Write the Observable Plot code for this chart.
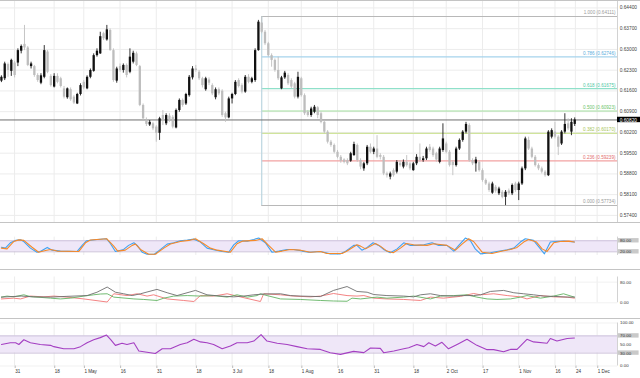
<!DOCTYPE html>
<html><head><meta charset="utf-8">
<script src="https://cdn.jsdelivr.net/npm/d3@7"></script>
<script src="https://cdn.jsdelivr.net/npm/@observablehq/plot@0.6"></script>
<style>
html,body{margin:0;padding:0;background:#fff;}
#chart{width:640px;height:378px;overflow:hidden;font-family:"Liberation Sans",Arial,sans-serif;}
.panel{border-top:1px solid #c4c4c4;}
.panel svg{display:block;}
</style></head><body><div id="chart"></div>
<script>
// ---- Candles (NZD/USD daily, trading-day index 0 = 27 Mar) ----
const open = [.6193,.6201,.6249,.6226,.6254,.6254,.6294,.6317,.6305,.6242,
.6242,.6212,.6186,.6206,.6291,.6209,.6173,.6209,.6201,.6167,
.6137,.6164,.6139,.6116,.6148,.6189,.6167,.6206,.6226,.6279,
.6285,.6353,.6332,.6364,.6296,.6193,.6242,.6229,.6246,.6223,
.6257,.6285,.6242,.6111,.6062,.6045,.6049,.6038,.6017,.6077,
.6049,.6075,.6071,.6035,.6094,.6128,.6116,.6144,.6204,.6234,
.6223,.6201,.6164,.6197,.6178,.6137,.6164,.6159,.6083,.6069,
.6133,.6148,.6195,.6178,.6156,.6206,.6189,.6195,.6296,.6389,
.6358,.6319,.6279,.6263,.6229,.6167,.6204,.6212,.6195,.6184,
.6139,.6201,.6144,.6088,.6077,.6088,.6103,.6083,.6054,.6021,
.5987,.5976,.5953,.5936,.5927,.5925,.5923,.5942,.5976,.5925,
.5897,.5914,.5970,.5953,.5964,.5942,.5936,.5880,.5869,.5891,
.5886,.5916,.5903,.5919,.5914,.5891,.5914,.5936,.5925,.5931,
.5970,.5964,.5948,.5919,.5959,.5981,.5953,.5919,.5908,.5964,
.5993,.6021,.6043,.5925,.5914,.5919,.5891,.5858,.5846,.5815,
.5835,.5813,.5818,.5801,.5822,.5813,.5846,.5824,.5846,.5897,
.5993,.5964,.5936,.5908,.5897,.5886,.5874,.6004,.6021,.6004,
.5981,.6021,.6049,.6021,.6047];
const high = [.6211,.6257,.6254,.6267,.6260,.6302,.6315,.6381,.6310,.6257,
.6246,.6218,.6218,.6313,.6296,.6215,.6218,.6218,.6206,.6175,
.6170,.6170,.6144,.6152,.6184,.6195,.6211,.6234,.6285,.6302,
.6358,.6358,.6381,.6369,.6302,.6240,.6251,.6251,.6251,.6302,
.6294,.6291,.6246,.6116,.6069,.6060,.6054,.6043,.6071,.6094,
.6083,.6083,.6077,.6099,.6133,.6133,.6152,.6212,.6242,.6246,
.6229,.6206,.6206,.6204,.6184,.6170,.6170,.6164,.6088,.6139,
.6152,.6195,.6201,.6184,.6212,.6215,.6206,.6302,.6398,.6411,
.6364,.6324,.6285,.6268,.6274,.6209,.6226,.6218,.6201,.6189,
.6223,.6206,.6150,.6094,.6105,.6111,.6107,.6088,.6060,.6026,
.5993,.5981,.5959,.5942,.5931,.5931,.5953,.5987,.5981,.5931,
.5919,.5976,.5981,.5970,.6009,.5948,.5942,.5886,.5886,.5897,
.5925,.5925,.5927,.5942,.5919,.5919,.5945,.5981,.5939,.5970,
.5979,.5970,.5953,.5970,.6049,.5987,.5959,.5925,.5970,.5998,
.6026,.6054,.6049,.5931,.5936,.5925,.5897,.5863,.5852,.5852,
.5841,.5835,.5824,.5824,.5829,.5846,.5852,.5852,.5903,.6004,
.6004,.5970,.5942,.5914,.5903,.5891,.6026,.6032,.6054,.6009,
.6026,.6083,.6066,.6066,.6069];
const low = [.6188,.6195,.6206,.6209,.6204,.6242,.6285,.6296,.6242,.6234,
.6206,.6189,.6181,.6201,.6218,.6173,.6170,.6184,.6170,.6133,
.6132,.6125,.6114,.6114,.6143,.6164,.6164,.6201,.6223,.6274,
.6283,.6330,.6328,.6294,.6189,.6186,.6223,.6220,.6204,.6218,
.6251,.6242,.6107,.6060,.6040,.6040,.6026,.5987,.5993,.6043,
.6043,.6054,.6032,.6032,.6088,.6105,.6111,.6139,.6197,.6223,
.6195,.6170,.6159,.6178,.6144,.6130,.6144,.6071,.6054,.6066,
.6116,.6144,.6170,.6150,.6152,.6184,.6184,.6189,.6294,.6353,
.6313,.6274,.6240,.6223,.6195,.6164,.6199,.6178,.6167,.6133,
.6133,.6139,.6077,.6071,.6071,.6083,.6066,.6049,.6015,.5981,
.5970,.5948,.5931,.5916,.5914,.5908,.5919,.5939,.5919,.5894,
.5889,.5908,.5948,.5945,.5931,.5927,.5874,.5866,.5860,.5869,
.5880,.5903,.5897,.5903,.5891,.5889,.5908,.5919,.5919,.5925,
.5953,.5936,.5919,.5914,.5953,.5948,.5903,.5874,.5903,.5959,
.5987,.6015,.5919,.5908,.5886,.5886,.5852,.5841,.5818,.5811,
.5815,.5807,.5796,.5773,.5807,.5807,.5818,.5790,.5841,.5891,
.5959,.5931,.5903,.5891,.5880,.5869,.5871,.5998,.5998,.5942,
.5976,.6015,.6026,.6009,.6040];
const close = [.6206,.6251,.6229,.6263,.6212,.6296,.6310,.6305,.6246,.6251,
.6212,.6195,.6211,.6296,.6223,.6178,.6209,.6189,.6175,.6139,
.6167,.6130,.6119,.6148,.6178,.6170,.6206,.6229,.6279,.6294,
.6343,.6336,.6366,.6296,.6195,.6234,.6229,.6246,.6212,.6274,
.6287,.6246,.6111,.6066,.6047,.6054,.6032,.6017,.6066,.6060,
.6077,.6060,.6038,.6094,.6128,.6111,.6148,.6206,.6234,.6229,
.6201,.6178,.6201,.6186,.6150,.6164,.6150,.6077,.6069,.6133,
.6148,.6189,.6175,.6156,.6206,.6189,.6201,.6296,.6392,.6358,
.6319,.6279,.6263,.6229,.6201,.6204,.6220,.6184,.6173,.6139,
.6206,.6144,.6083,.6077,.6099,.6105,.6077,.6054,.6021,.5987,
.5976,.5953,.5936,.5923,.5919,.5914,.5948,.5979,.5925,.5903,
.5914,.5970,.5953,.5964,.5936,.5936,.5880,.5874,.5880,.5874,
.5919,.5908,.5919,.5908,.5897,.5914,.5936,.5925,.5931,.5964,
.5959,.5942,.5927,.5964,.5998,.5953,.5908,.5908,.5964,.5993,
.6021,.6047,.5925,.5914,.5927,.5891,.5858,.5846,.5824,.5846,
.5822,.5829,.5801,.5818,.5813,.5841,.5824,.5846,.5897,.5998,
.5964,.5936,.5908,.5897,.5886,.5874,.6021,.6026,.6004,.5970,
.6021,.6047,.6032,.6054,.6062];

// ---- Axis ticks ----
const tickIdx = [4,16,25,36,47,59,70,81,91,102,113,125,135,146,157,168,174.2,180.8];
const tickLabels = ["31","18","1 May","16","31","18","3 Jul","18","1 Aug","16","31","18","2 Oct","17","1 Nov","16","24","1 Dec"];
const priceTicks = [0.644,0.637,0.630,0.623,0.616,0.609,0.602,0.595,0.588,0.581,0.574];
const lastPrice = 0.6062;
const lastPriceLabel = "0.60820";

// ---- Fibonacci retracement ----
const fibStartIdx = 79;
const fibLevels = [1, 0.786, 0.618, 0.5, 0.382, 0.236, 0];
const fibPrices = [0.64111, 0.62746, 0.61675, 0.60923, 0.60170, 0.59239, 0.57734];
const fibLineColors = ["#b8b8b8","#a6d3ec","#8fe0c9","#a4e0a0","#d0e49c","#f2a2a2","#b8b8b8"];
const fibTextColors = ["#9a9a9a","#5aaedc","#4fc7a4","#6cc46a","#a8c65a","#e36c6c","#9a9a9a"];

// ---- Stochastic ----
const stochKAt = [0,1.2,2.7,4.3,5.8,6.8,8.8,10.8,11.8,13.9,15.4,17.9,23,24.5,25.8,29,31.9,33.1,34.6,37.1,38.6,40.2,41.2,42.7,44.2,46.4,48.3,50.3,52.3,54.3,56.4,58.4,60.4,62.4,64.4,67,69,70.5,72,74.6,76.6,78.1,80.1,82.1,84.2,86.7,88.7,91.3,93.3,96.8,99.8,102.9,104.4,106.9,107.9,109.4,111,112.8,114.5,116,118,120.1,122.1,124.1,126.1,128.2,130.7,132.7,135.2,137.3,138.8,140.8,142.3,143.8,145.4,148.4,150.4,153.5,155.5,157.5,159,161.5,163.1,164.8,166.6,168.1,170.7,172.2,173.9];
const stochKVal = [45,40,69,82,85,76,40,18,22,44,29,24,22,55,80,87,91,64,22,33,55,69,55,18,7,7,33,62,69,80,84,89,73,40,31,22,18,58,80,78,87,95,69,18,24,33,33,24,18,22,9,9,22,55,55,29,44,69,55,33,15,36,69,55,55,58,69,55,55,24,55,95,82,36,9,15,22,31,40,73,91,82,47,9,73,76,78,76,73];
const stochDAt = [0,1.7,3.7,5.3,6.8,9.3,11.3,13.4,14.9,16.9,23.5,25.5,27,32,34.1,35.3,37.6,39.7,40.7,42.2,44.7,46.7,49.3,51.3,54.3,56.9,58.9,61.4,63.4,65.5,69.5,71.5,73.1,77.1,79.1,81.1,83.2,85.2,87.7,90.8,93.8,96.8,98.8,103.4,104.9,107.9,109,110.5,113.5,115,117,118.9,121.1,122.9,125.1,129.2,131.2,135.2,137.8,139.8,141.8,143.3,145.9,148.9,151.4,154.5,156.5,158.5,160,162.4,164.1,165.6,167.6,169.6,172.2,173.9];
const stochDVal = [40,36,76,85,82,45,18,27,33,24,22,69,84,91,51,24,29,55,62,33,7,7,40,62,76,82,91,64,40,29,18,64,78,82,91,55,18,24,33,29,18,22,11,11,24,58,51,36,65,51,24,15,40,65,58,55,64,55,29,62,91,76,18,11,22,33,44,73,87,73,36,22,69,76,78,73];
const stochBand = [20, 80];

// ---- ADX / DMI ----
const adxAt = [0,6,9.8,14.9,19.9,26,29,32.1,34.6,37.1,39.7,42.2,47.2,50.3,53.3,58.9,62.4,66.5,70.5,73.5,76.6,79.6,84.7,87.7,90.7,96.8,100.8,104.9,107.9,111,113,117,122.1,125.1,127.2,130.2,133.2,137.3,140.3,143.3,145.4,148.4,152.4,155.5,158.5,161.5,164.6,167.6,171.7,173.9];
const adxVal = [22,26,23,22,25,28,41,61,41,35,28,35,52,39,28,48,31,26,23,26,31,34,35,28,26,24,48,63,44,41,32,28,26,23,31,35,28,26,28,28,31,44,48,39,35,31,26,25,22,22];
const plusDIAt = [0,1.7,3.7,6.8,8.8,14.9,17.9,20.9,25,28,30,32.1,34.1,40.2,43.2,47.2,49.3,52.3,56.4,60.4,64.4,68.5,71.5,74.6,77.6,78.6,80.6,84.7,90.7,96.8,100.8,104.9,106.4,109,114,117,122.1,125.1,130.2,133.2,137.3,141.3,144.3,147.4,150.4,154.5,157.5,159.5,163.6,167.6,170.6,173.9];
const plusDIVal = [22,26,23,31,24,18,15,18,26,31,34,35,22,15,13,9,18,26,28,26,28,22,31,22,28,35,28,15,13,9,7,6,18,15,22,18,22,26,15,26,28,31,22,15,13,15,22,28,18,26,35,22];
const minusDIAt = [0,3.7,5.8,8.8,12.9,15.9,19.9,25,32.1,34.1,38.1,41.2,44.2,46.2,50.3,55.3,58.4,60.4,64.4,68.5,72.5,78.6,79.6,84.7,88.7,93.8,96.8,100.8,104.9,107.9,110,113,117,122.1,127.2,130.2,134.2,139.3,143.3,145.4,149.4,153.5,157.5,159.5,163.6,167.6,171.7,173.9];
const minusDIVal = [15,18,15,26,23,26,22,15,3,35,28,35,26,31,15,9,5,28,26,35,23,5,35,31,26,23,26,36,28,26,28,18,15,13,9,22,18,25,36,31,35,28,23,15,28,23,22,18];

// ---- RSI ----
const rsiAt = [0,2.7,4.3,5.3,6.8,8.8,11.8,14.9,15.9,18.9,22,24,26,28,30,31.9,33.1,34.6,36.6,38.1,40.2,41.7,44.2,46.7,48.8,51.3,54.3,56.4,58.4,60.4,62.4,64.4,67,69.5,71.5,74.6,76.6,78.8,80.6,83.7,86.7,89.7,92.8,96.8,99.8,102.9,106.9,110,112,115,116,119.1,122.1,123.6,126.1,128.2,129.7,131.7,133.7,135.7,138.3,141.3,144.3,147.4,149.4,152.4,154.5,156.5,159.5,161.5,165.6,166.6,168.6,171.7,173.9];
const rsiVal = [50,54,54,50,61,54,50,48,45,40,40,45,54,61,66,72,62,48,53,50,54,35,32,29,40,40,50,54,62,56,54,50,40,46.5,54,54,58,73,58,53,50,45,40,38.6,31,27,34,31,42,41,31,35,40,42.5,50,45,54,46.5,55,40,50,62,48,38,38,33,38.6,38.6,62,56,53,64,58,64,65];
const rsiBand = [30, 70];

// ---------------- drawing ----------------
const xLo = -0.28, xHi = 186.98;
const plotRight = 617, W = 640;
const k = plotRight / (xHi - xLo);          // px per trading day
const xAtPx = px => xLo + px / k;            // index for a pixel x (label area)
const FONT = '"Liberation Sans", Arial, sans-serif';
const labelMap = new Map(tickIdx.map((d, i) => [d, tickLabels[i]]));

const candles = open.map((o, i) => ({i, o, h: high[i], l: low[i], c: close[i]}));
const up = candles.filter(d => d.c >= d.o);
const dn = candles.filter(d => d.c < d.o);
const pts = (at, val) => at.map((x, i) => ({x, v: val[i]}));

function base(height, marginTop, marginBottom, yDomain, marks) {
  return Plot.plot({
    width: W, height, marginLeft: 0, marginRight: W - plotRight, marginTop, marginBottom,
    x: {domain: [xLo, xHi], axis: null},
    y: {domain: yDomain, axis: null},
    style: {fontFamily: FONT, fontSize: "4.6px", background: "#fff", color: "#333"},
    marks
  });
}
function sideLabels(levels, texts, boxedFlags, pxPerUnit) {
  const data = levels.map((v, i) => ({v, t: texts[i], b: boxedFlags[i]}));
  const dv = 2.2 / pxPerUnit;
  return [
    Plot.rect(data.filter(d => d.b), {x1: () => xAtPx(617.8), x2: () => xAtPx(638.6), y1: d => d.v - dv, y2: d => d.v + dv, fill: "#c9c9c9"}),
    Plot.text(data, {x: () => xHi, y: "v", text: "t", dx: 2.6, textAnchor: "start", fill: "#333", fontSize: 4.4})
  ];
}
const vGrid = Plot.ruleX(tickIdx, {stroke: "#ececec"});
const rightEdge = Plot.ruleX([xHi], {stroke: "#d2d2d2"});

// Main price panel
const pxPerPrice = 221 / (0.646171 - 0.571605);
const fib = fibLevels.map((lvl, i) => ({lvl, p: fibPrices[i], lc: fibLineColors[i], tc: fibTextColors[i]}));
const mainPlot = base(221, 0, 0, [0.571605, 0.646171], [
  Plot.ruleY(priceTicks, {stroke: "#ececec"}),
  vGrid,
  ...fib.map(d => Plot.ruleY([d], {y: "p", x1: () => fibStartIdx, x2: () => xHi, stroke: d.lc, strokeWidth: 1.2})),
  Plot.ruleX([{i: fibStartIdx}], {x: "i", y1: () => fibPrices[6], y2: () => fibPrices[0], stroke: "#bcd6e0", strokeWidth: 1.2}),
  ...fib.map(d => Plot.text([d], {x: () => xHi, y: "p", text: e => `${e.lvl.toFixed(3)} (${e.p.toFixed(5)})`, textAnchor: "end", dx: -2, dy: -3.6, fill: d.tc, fontSize: 4.6})),
  Plot.ruleY([lastPrice], {x1: () => xLo, x2: () => xHi, stroke: "#6f6f6f", strokeWidth: 1}),
  Plot.ruleX(dn, {x: "i", y1: "l", y2: "h", stroke: "#c0c0c0", strokeWidth: 0.9}),
  Plot.ruleX(dn, {x: "i", y1: "o", y2: "c", stroke: "#bdbdbd", strokeWidth: 2.3}),
  Plot.ruleX(up, {x: "i", y1: "l", y2: "h", stroke: "#1e1e1e", strokeWidth: 0.9}),
  Plot.ruleX(up, {x: "i", y1: "o", y2: "c", stroke: "#111", strokeWidth: 2.3}),
  rightEdge,
  Plot.axisY(priceTicks, {anchor: "right", tickSize: 0, tickPadding: 2.2, tickFormat: d3.format(".5f"), fontSize: 4.8, fill: "#444", label: null}),
  Plot.rect([lastPrice], {x1: () => xAtPx(617), x2: () => xAtPx(640), y1: d => d - 2.7 / pxPerPrice, y2: d => d + 2.7 / pxPerPrice, fill: "#000"}),
  Plot.text([lastPrice], {x: () => xHi, y: d => d, text: () => lastPriceLabel, dx: 2.2, textAnchor: "start", fill: "#fff", fontSize: 4.8})
]);

// Stochastic panel
const stochMT = 13.6, stochMB = 14, stochH = 46;
const stochPlot = base(stochH, stochMT, stochMB, [0, 100], [
  vGrid,
  Plot.rect([stochBand], {x1: () => xLo, x2: () => xHi, y1: d => d[0], y2: d => d[1], fill: "#efe7f8"}),
  Plot.ruleY(stochBand, {x1: () => xLo, x2: () => xHi, stroke: "#cdc2da"}),
  Plot.line(pts(stochKAt, stochKVal), {x: "x", y: "v", stroke: "#3fa2f2", strokeWidth: 1.1}),
  Plot.line(pts(stochDAt, stochDVal), {x: "x", y: "v", stroke: "#f5892a", strokeWidth: 1.1}),
  rightEdge,
  ...sideLabels([80, 20], ["80.00", "20.00"], [true, true], (stochH - stochMT - stochMB) / 100)
]);

// ADX / DMI panel
const adxMT = 6.5, adxMB = 15.7, adxH = 48;
const adxPlot = base(adxH, adxMT, adxMB, [0, 100], [
  vGrid,
  Plot.ruleY([0, 80], {x1: () => xLo, x2: () => xHi, stroke: "#f1f1f1"}),
  Plot.line(pts(minusDIAt, minusDIVal), {x: "x", y: "v", stroke: "#f27575", strokeWidth: 0.9}),
  Plot.line(pts(plusDIAt, plusDIVal), {x: "x", y: "v", stroke: "#62b362", strokeWidth: 0.9}),
  Plot.line(pts(adxAt, adxVal), {x: "x", y: "v", stroke: "#6e6e6e", strokeWidth: 0.9}),
  rightEdge,
  ...sideLabels([80, 0], ["80.00", "0.00"], [false, false], (adxH - adxMT - adxMB) / 100)
]);

// RSI panel with date axis
const rsiMT = 3.5, rsiMB = 12.5, rsiH = 59;
const rsiPlot = base(rsiH, rsiMT, rsiMB, [0, 100], [
  vGrid,
  Plot.ruleY([0, 100], {x1: () => xLo, x2: () => xHi, stroke: "#f1f1f1"}),
  Plot.rect([rsiBand], {x1: () => xLo, x2: () => xHi, y1: d => d[0], y2: d => d[1], fill: "#efe7f8"}),
  Plot.ruleY(rsiBand, {x1: () => xLo, x2: () => xHi, stroke: "#cdc2da"}),
  Plot.line(pts(rsiAt, rsiVal), {x: "x", y: "v", stroke: "#a43fc2", strokeWidth: 1.1}),
  rightEdge,
  ...sideLabels([100, 70, 50, 30, 0], ["100.00", "70.00", "50.00", "30.00", "0.00"], [false, true, false, true, false], (rsiH - rsiMT - rsiMB) / 100),
  Plot.axisX(tickIdx, {anchor: "bottom", tickSize: 2.5, tickPadding: 1.2, tickFormat: d => labelMap.get(d), textAnchor: "start", dx: 0.6, fontSize: 4.6, fill: "#333", stroke: "#bbb", label: null})
]);

const root = document.getElementById("chart");
for (const p of [mainPlot, stochPlot, adxPlot, rsiPlot]) {
  const div = document.createElement("div");
  div.className = "panel";
  div.appendChild(p);
  root.appendChild(div);
}
</script></body></html>
